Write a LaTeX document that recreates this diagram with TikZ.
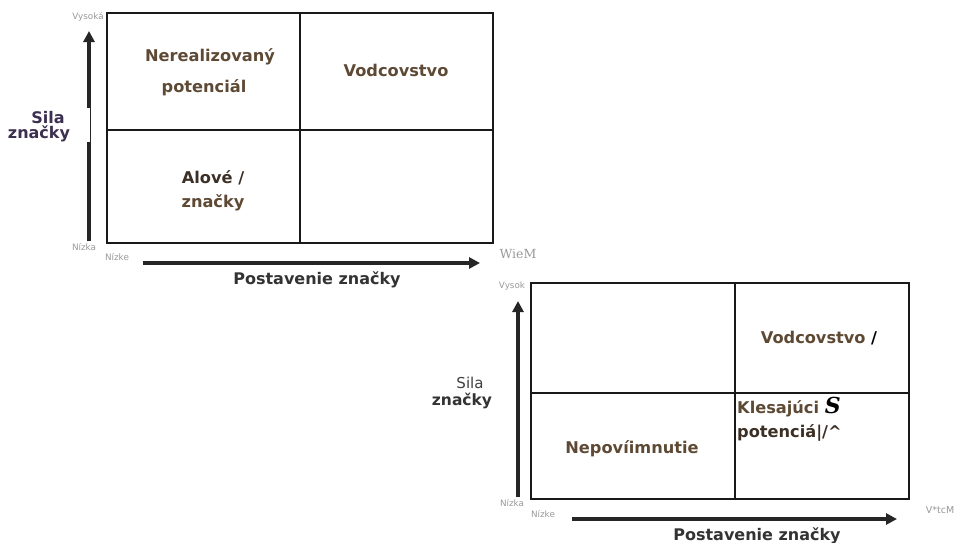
\documentclass[tikz,border=0pt]{standalone}
\usepackage{fontspec}
\setmainfont{DejaVu Sans}
\newfontfamily\seriffont{DejaVu Serif}
\usetikzlibrary{arrows.meta}
\definecolor{brownc}{HTML}{5E4A34}
\definecolor{darkbrown}{HTML}{3C2F25}
\definecolor{purplec}{HTML}{3B3050}
\definecolor{axgray}{HTML}{333333}
\definecolor{tinyc}{HTML}{9A9A9A}
\tikzset{
  celltext/.style={font=\bfseries\fontsize{16.2}{18}\selectfont, text=brownc, inner sep=0pt, anchor=base},
  axtitle/.style={font=\bfseries\fontsize{16}{18}\selectfont, text=axgray, inner sep=0pt, anchor=base},
  tiny/.style={font=\fontsize{8.8}{10}\selectfont, text=tinyc, inner sep=0pt},
  gridline/.style={line width=1.1pt, draw=black!90},
  axisarrow/.style={line width=3.6pt, draw=black!85, -{Triangle[length=11pt,width=11pt]}},
}
\begin{document}
\begin{tikzpicture}[x=1pt,y=-1pt]
\useasboundingbox[fill=white] (0,0) rectangle (965,542);

% ---------- top diagram ----------
\coordinate (A1s) at (89,241);
\coordinate (A1e) at (89,31);
\coordinate (B1s) at (143,263);
\coordinate (B1e) at (480,263);
\draw[axisarrow] (A1s) -- (A1e);
\draw[axisarrow] (B1s) -- (B1e);
\fill[white] (0,108) rectangle (90,142);

\draw[gridline] (107,13) rectangle (493,243);
\draw[gridline] (300,13) -- (300,243);
\draw[gridline] (107,130) -- (493,130);

\node[celltext] (t1a) at (210,61) {Nerealizovaný};
\node[celltext] (t1b) at (204,92) {potenciál};
\node[celltext] (t2) at (396,76) {Vodcovstvo};
\node[celltext, text=darkbrown] (t3a) at (213,183) {Alové /};
\node[celltext] (t3b) at (213,207) {značky};

\node[font=\bfseries\fontsize{16}{18}\selectfont, text=purplec, inner sep=0pt, anchor=base] (s1a) at (48,123) {Sila};
\node[font=\bfseries\fontsize{16}{18}\selectfont, text=purplec, inner sep=0pt, anchor=base] (s1b) at (39,138) {značky};

\node[tiny] (v1) at (88,17) {Vysoká};
\node[tiny] (n1a) at (84,247) {Nízka};
\node[tiny] (n1b) at (117,257) {Nízke};
\node[font=\seriffont\fontsize{12.5}{14}\selectfont, text=black!40, inner sep=0pt] (w1) at (518,254) {WieM};
\node[axtitle] (p1) at (317,284) {Postavenie značky};

% ---------- bottom diagram ----------
\coordinate (A2s) at (518,497);
\coordinate (A2e) at (518,301);
\coordinate (B2s) at (572,519);
\coordinate (B2e) at (897,519);
\draw[axisarrow] (A2s) -- (A2e);
\draw[axisarrow] (B2s) -- (B2e);

\node[tiny] (v2) at (512,286) {Vysok};
\draw[gridline, fill=white] (531,283) rectangle (909,499);
\draw[gridline] (735,283) -- (735,499);
\draw[gridline] (531,393) -- (909,393);

\node[celltext] (u1) at (819,343) {Vodcovstvo \textcolor{black}{/}};
\node[celltext, anchor=base west] (u2a) at (737,413) {Klesajúci {\seriffont\itshape\fontsize{22}{24}\selectfont\textcolor{black}{S}}};
\node[celltext, anchor=base west, text=darkbrown] (u2b) at (737,437) {potenciá|/\^{}};
\node[celltext] (u3) at (632,453) {Nepovíimnutie};

\node[font=\fontsize{15}{17}\selectfont, text=black!75, inner sep=0pt, anchor=base] (s2a) at (470,388) {Sila};
\node[font=\bfseries\fontsize{15.5}{17}\selectfont, text=axgray, inner sep=0pt, anchor=base] (s2b) at (462,405) {značky};

\node[tiny] (n2a) at (512,503) {Nízka};
\node[tiny] (n2b) at (543,514) {Nízke};
\node[font=\fontsize{9.5}{11}\selectfont, text=black!40, inner sep=0pt] (w2) at (940,510) {V*tcM};
\node[axtitle] (p2) at (757,540) {Postavenie značky};
\end{tikzpicture}
\end{document}
